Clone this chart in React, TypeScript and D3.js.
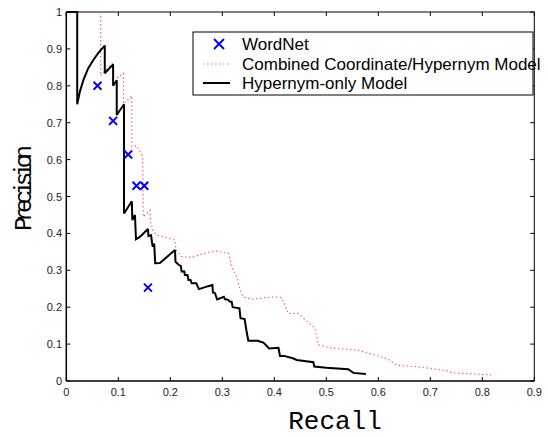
import React from "react";
import * as d3 from "d3";

const xTicks = [0, 0.1, 0.2, 0.3, 0.4, 0.5, 0.6, 0.7, 0.8, 0.9];
const yTicks = [0, 0.1, 0.2, 0.3, 0.4, 0.5, 0.6, 0.7, 0.8, 0.9, 1];

const hypernymRecall = [0, 0.021, 0.021, 0.026, 0.033, 0.042, 0.052, 0.062, 0.074, 0.074, 0.090, 0.090, 0.097, 0.097, 0.111, 0.111, 0.126, 0.127, 0.132, 0.134, 0.142, 0.157, 0.158, 0.163, 0.166, 0.169, 0.171, 0.18, 0.209, 0.210, 0.216, 0.22, 0.222, 0.227, 0.228, 0.233, 0.235, 0.239, 0.241, 0.25, 0.255, 0.273, 0.281, 0.282, 0.286, 0.29, 0.303, 0.305, 0.311, 0.315, 0.318, 0.32, 0.333, 0.335, 0.343, 0.346, 0.35, 0.369, 0.372, 0.379, 0.387, 0.39, 0.408, 0.411, 0.419, 0.437, 0.443, 0.475, 0.477, 0.5, 0.542, 0.552, 0.576];
const hypernymPrecision = [1, 1, 0.75, 0.784, 0.816, 0.847, 0.87, 0.89, 0.909, 0.834, 0.858, 0.80, 0.815, 0.721, 0.75, 0.454, 0.487, 0.436, 0.450, 0.384, 0.391, 0.412, 0.393, 0.395, 0.364, 0.372, 0.319, 0.32, 0.355, 0.323, 0.315, 0.312, 0.297, 0.297, 0.287, 0.287, 0.274, 0.274, 0.265, 0.265, 0.249, 0.257, 0.260, 0.24, 0.238, 0.221, 0.228, 0.222, 0.22, 0.215, 0.215, 0.2, 0.197, 0.17, 0.168, 0.14, 0.109, 0.109, 0.107, 0.104, 0.093, 0.088, 0.09, 0.068, 0.068, 0.061, 0.057, 0.051, 0.039, 0.036, 0.032, 0.022, 0.019];

const combinedRecall = [0.02, 0.066, 0.066, 0.090, 0.091, 0.10, 0.110, 0.110, 0.126, 0.126, 0.135, 0.147, 0.148, 0.161, 0.162, 0.167, 0.175, 0.187, 0.209, 0.211, 0.222, 0.24, 0.276, 0.289, 0.312, 0.318, 0.328, 0.334, 0.340, 0.356, 0.372, 0.401, 0.414, 0.427, 0.446, 0.478, 0.485, 0.510, 0.558, 0.578, 0.603, 0.619, 0.635, 0.674, 0.732, 0.744, 0.770, 0.821];
const combinedPrecision = [1, 1, 0.827, 0.863, 0.823, 0.823, 0.834, 0.751, 0.773, 0.635, 0.638, 0.608, 0.445, 0.463, 0.432, 0.405, 0.395, 0.391, 0.382, 0.355, 0.337, 0.335, 0.350, 0.352, 0.346, 0.31, 0.283, 0.247, 0.228, 0.222, 0.224, 0.228, 0.226, 0.183, 0.183, 0.143, 0.098, 0.089, 0.084, 0.077, 0.066, 0.059, 0.043, 0.039, 0.028, 0.022, 0.02, 0.016];

const wordnetRecall = [0.060, 0.090, 0.119, 0.135, 0.150, 0.157];
const wordnetPrecision = [0.80, 0.705, 0.614, 0.529, 0.529, 0.253];

const legendLabels = ["WordNet", "Combined Coordinate/Hypernym Model", "Hypernym-only Model"];

const W = 548, H = 437;
const left = 66.3, right = 534.3, top = 12, bottom = 381;

export default function App() {
  const x = d3.scaleLinear().domain([0, 0.9]).range([left, right]);
  const y = d3.scaleLinear().domain([0, 1]).range([bottom, top]);
  const line = d3.line<[number, number]>().x(d => x(d[0])).y(d => y(d[1]));
  const hyp = hypernymRecall.map((r, i) => [r, hypernymPrecision[i]] as [number, number]);
  const comb = combinedRecall.map((r, i) => [r, combinedPrecision[i]] as [number, number]);
  const tickFont = "Liberation Sans, Arial, sans-serif";
  const xm = 4;
  return (
    <svg width={W} height={H} style={{ position: "absolute", left: 0, top: 0, background: "#fff" }}>
      <rect x={0} y={0} width={W} height={H} fill="#fff" />
      {/* frame */}
      <line x1={left} x2={right} y1={top} y2={top} stroke="#000" strokeWidth={1} />
      <line x1={right} x2={right} y1={top} y2={bottom} stroke="#000" strokeWidth={1} />
      {/* ticks */}
      {xTicks.map(t => (
        <g key={"x" + t}>
          <line x1={x(t)} x2={x(t)} y1={bottom} y2={bottom - 4} stroke="#000" strokeWidth={1} />
          <line x1={x(t)} x2={x(t)} y1={top} y2={top + 4} stroke="#000" strokeWidth={1} />
          <text x={x(t)} y={396} textAnchor="middle" fontSize={11} fontFamily={tickFont} fill="#222">{String(t)}</text>
        </g>
      ))}
      {yTicks.map(t => (
        <g key={"y" + t}>
          <line x1={left} x2={left + 4} y1={y(t)} y2={y(t)} stroke="#000" strokeWidth={1} />
          <line x1={right} x2={right - 4} y1={y(t)} y2={y(t)} stroke="#000" strokeWidth={1} />
          <text x={62} y={y(t) + 4} textAnchor="end" fontSize={11} fontFamily={tickFont} fill="#222">{String(t)}</text>
        </g>
      ))}
      {/* series */}
      <path d={line(comb) || ""} fill="none" stroke="#ff4a4a" strokeWidth={1.2} strokeDasharray="1.5,2.5" opacity={0.85} />
      <path d={line(hyp) || ""} fill="none" stroke="#000" strokeWidth={2} strokeLinejoin="miter" strokeMiterlimit={2} />
      {wordnetRecall.map((r, i) => {
        const cx = x(r), cy = y(wordnetPrecision[i]);
        return (
          <g key={"w" + i} stroke="#0000ff" strokeWidth={2}>
            <line x1={cx - xm} y1={cy - xm} x2={cx + xm} y2={cy + xm} />
            <line x1={cx - xm} y1={cy + xm} x2={cx + xm} y2={cy - xm} />
          </g>
        );
      })}
      {/* axes */}
      <line x1={left} x2={left} y1={top} y2={bottom} stroke="#000" strokeWidth={1.5} />
      <line x1={left} x2={right} y1={bottom} y2={bottom} stroke="#000" strokeWidth={1.5} />
      {/* legend */}
      <rect x={193} y={32} width={340} height={63} fill="#fff" stroke="#000" strokeWidth={1} />
      <g stroke="#0000ff" strokeWidth={2}>
        <line x1={219 - 5} y1={44 - 5} x2={219 + 5} y2={44 + 5} />
        <line x1={219 - 5} y1={44 + 5} x2={219 + 5} y2={44 - 5} />
      </g>
      <line x1={203} x2={230} y1={64} y2={64} stroke="#ff4a4a" strokeWidth={1.2} strokeDasharray="1.5,2.5" opacity={0.85} />
      <line x1={203} x2={230} y1={83} y2={83} stroke="#000" strokeWidth={2} />
      {legendLabels.map((l, i) => (
        <text key={l} x={242} y={50 + i * 19.5} fontSize={17} fontFamily={tickFont} fill="#000">{l}</text>
      ))}
      {/* axis labels */}
      <text x={335} y={429} textAnchor="middle" fontSize={26} fontFamily="Liberation Mono, Courier New, monospace" fill="#000">Recall</text>
      <text transform="translate(31,188) rotate(-90)" textAnchor="middle" fontSize={24} fontFamily="Liberation Mono, Courier New, monospace" fill="#000" textLength={86} lengthAdjust="spacing">Precision</text>
    </svg>
  );
}
